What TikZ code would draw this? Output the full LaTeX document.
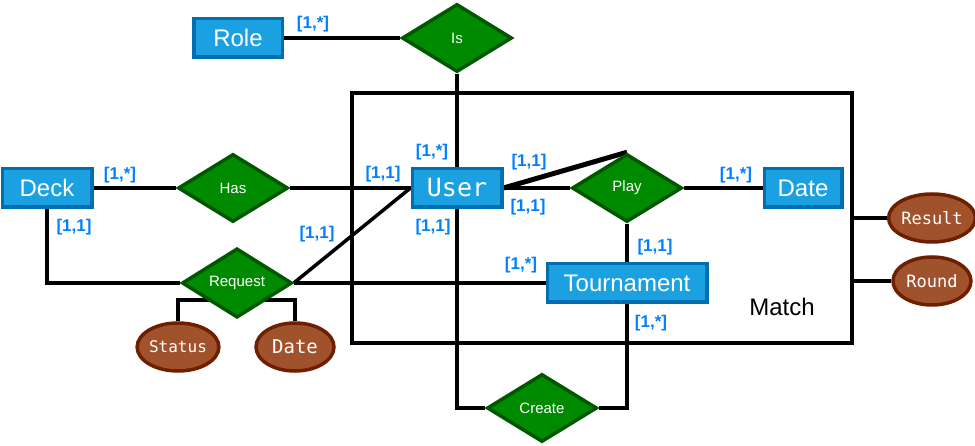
\documentclass[tikz,border=0pt]{standalone}
\usepackage{fontspec}
\setmainfont{Liberation Sans}
\setmonofont{DejaVu Sans Mono}
\usetikzlibrary{shapes.geometric,backgrounds}
\definecolor{entityfill}{HTML}{1BA1E2}
\definecolor{entityline}{HTML}{006EAF}
\definecolor{relfill}{HTML}{008A00}
\definecolor{relline}{HTML}{005700}
\definecolor{attrfill}{HTML}{A0522D}
\definecolor{attrline}{HTML}{6D1F00}
\definecolor{cardblue}{HTML}{007FFF}
\begin{document}
\begin{tikzpicture}[x=1pt,y=-1pt,
    entity/.style={draw=entityline, fill=entityfill, line width=3.5pt, minimum height=38.5pt,
        inner sep=0pt, text=white, font=\fontsize{24}{28}\selectfont},
    relation/.style={diamond, draw=relline, fill=relfill, line width=3.5pt, minimum width=110pt,
        minimum height=68pt, inner sep=0pt, text=white, font=\fontsize{15}{18}\selectfont},
    attribute/.style={ellipse, draw=attrline, fill=attrfill, line width=3.5pt, minimum width=78pt,
        minimum height=48pt, inner sep=0pt, text=white, font=\ttfamily\fontsize{17}{20}\selectfont},
    card/.style={text=cardblue, font=\bfseries\fontsize{17}{20}\selectfont},
    link/.style={line width=3.5pt}]
    \useasboundingbox (0,0) rectangle (975,446);

    % Match aggregation
    \node[draw, line width=3.5pt, minimum width=500pt, minimum height=250pt] (match) at (602,218) {};
    \node[font=\fontsize{24}{28}\selectfont] (matchlabel) at (782,307) {Match};

    % Entities
    \node[entity, minimum width=88.5pt] (role) at (238,38) {Role};
    \node[entity, minimum width=89.5pt] (deck) at (47,188) {Deck};
    \node[entity, minimum width=89.5pt, font=\ttfamily\fontsize{25}{29}\selectfont] (user) at (457,188) {User};
    \node[entity, minimum width=77.5pt] (date) at (803,188) {Date};
    \node[entity, minimum width=159.5pt] (tournament) at (627,283) {Tournament};

    % Relations
    \node[relation] (is) at (457,38) {Is};
    \node[relation] (has) at (233,188) {Has};
    \node[relation] (play) at (627,188) {Play};
    \node[relation] (request) at (237,283) {Request};
    \node[relation] (create) at (542,408) {Create};

    % Attributes
    \node[attribute, font=\ttfamily\fontsize{16}{19}\selectfont] (status) at (178,347) {Status};
    \node[attribute, font=\ttfamily\fontsize{19}{22}\selectfont] (reqdate) at (295,347) {Date};
    \node[attribute] (result) at (932,218) {Result};
    \node[attribute] (round) at (932,281) {Round};

    % Connectors
    \begin{scope}[on background layer]
        \draw[link] (role.east) -- (is.west);
        \draw[link] (is.south) -- (user.north);
        \draw[link] (deck.east) -- (has.west);
        \draw[link] (has.east) -- (user.west);
        \draw[link] (deck.south) |- (request.west);
        \draw[link] (request.east) -- (user.west);
        \draw[link] (request.east) -- (tournament.west);
        \draw[link] (user.east) -- (play.west);
        \draw[link, line width=5pt] (user.east) -- (play.north);
        \draw[link] (play.east) -- (date.west);
        \draw[link] (play.south) -- (tournament.north);
        \draw[link] (user.south) |- (create.west);
        \draw[link] (create.east) -| (tournament.south);
        \draw[link] (status.north) -- ++(0,-21) -| (reqdate.north);
        \draw[link, line width=4.5pt] (match.east) -- (result.west);
        \draw[link, line width=4.5pt] (round.west -| match.east) -- (round.west);
    \end{scope}

    % Cardinalities
    \foreach \x/\y/\card in {
        313/24/{[1,*]},
        120/175/{[1,*]},
        74/227/{[1,1]},
        383/174/{[1,1]},
        432/152/{[1,*]},
        529/162/{[1,1]},
        528/207/{[1,1]},
        433/227/{[1,1]},
        317/234/{[1,1]},
        736/175/{[1,*]},
        655/247/{[1,1]},
        521/265/{[1,*]},
        651/323/{[1,*]}
    } {
        \node[card] at (\x,\y) {\card};
    }
\end{tikzpicture}
\end{document}
